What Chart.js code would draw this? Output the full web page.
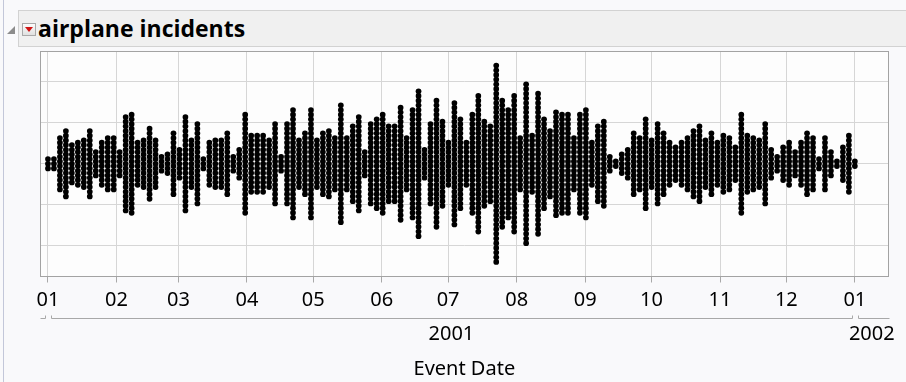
<!DOCTYPE html>
<html><head><meta charset="utf-8">
<script src="https://cdn.jsdelivr.net/npm/chart.js@4/dist/chart.umd.min.js"></script>
<style>
html,body{margin:0;padding:0;width:906px;height:382px;overflow:hidden;background:#f9f9fb;font-family:"Noto Sans",sans-serif;}
#wrap{position:relative;width:906px;height:382px;}
#edge{position:absolute;left:3px;top:0;width:1px;height:382px;background:#c3c7d9;}
#hdr{position:absolute;left:18px;top:10px;width:900px;height:37px;background:#f0f0f0;border:1px solid #d2d2d2;box-sizing:border-box;}
#tri{position:absolute;left:7px;top:26px;width:0;height:0;border-left:8px solid transparent;border-bottom:8px solid #8c8c8c;}
#btn{position:absolute;left:22px;top:23px;width:14px;height:13px;border:1px solid #a9a9a9;background:linear-gradient(#fcfcfc,#e0e0e0);box-sizing:border-box;}
#btn:after{content:"";position:absolute;left:2px;top:3px;border-left:4px solid transparent;border-right:4px solid transparent;border-top:5px solid #d01414;}
#title{position:absolute;left:38px;top:13px;font-family:"Open Sans",sans-serif;font-weight:700;font-size:23px;line-height:30px;color:#000;white-space:nowrap;}
canvas{position:absolute;left:0;top:0;}
</style></head>
<body><div id="wrap">
<div id="edge"></div>
<div id="hdr"></div>
<div id="tri"></div>
<div id="btn"></div>
<div id="title">airplane incidents</div>
<canvas id="c" width="906" height="382"></canvas>
</div>
<script>
// Incidents per date bin (136 bins spanning 2001-01-01 .. 2002-01-01)
const binCounts = [3,3,12,15,9,10,11,15,6,10,
12,12,6,21,22,10,11,16,11,4,
5,14,7,21,11,18,3,10,11,11,
14,4,7,22,13,13,13,11,18,4,
18,24,11,14,24,11,14,15,12,26,
12,17,21,6,18,20,22,17,17,25,
12,24,32,7,18,28,19,10,27,20,
10,22,30,19,17,43,28,24,30,12,
35,13,31,20,15,23,22,22,12,22,
24,10,17,19,4,2,5,7,14,12,
20,11,18,14,10,8,10,12,15,17,
11,14,10,13,12,8,22,13,12,11,
18,7,4,8,10,6,10,14,12,3,
12,6,2,8,13,2];
const firstBinDay = 0;          // 2001-01-01
const lastBinDay = 365;         // 2002-01-01
// Month tick positions (day of year) and labels
const monthDays = [0,31,59,90,120,151,181,212,243,273,304,334,365];
const monthLabels = ["01","02","03","04","05","06","07","08","09","10","11","12","01"];
const yearLabels = ["2001","2002"];
const axisMinDay = -3.6, axisMaxDay = 380.3;
const yGridValues = [-17.56,-8.78,0,8.78,17.56];
const yHalfRange = 24.12;

const binWidth = (lastBinDay - firstBinDay) / (binCounts.length - 1);
const points = [];
binCounts.forEach((n, i) => {
  for (let k = 0; k < n; k++) points.push({x: firstBinDay + i * binWidth, y: k - (n - 1) / 2});
});
const yearSpans = [[axisMinDay, 0], [0, 365], [365, axisMaxDay]];
const yearCenters = [(0 + 365) / 2, (365 + axisMaxDay) / 2];

const frame = {
  id: 'frame',
  beforeDraw(chart) {
    const a = chart.chartArea, ctx = chart.ctx;
    ctx.save(); ctx.fillStyle = '#fdfdfd';
    ctx.fillRect(a.left, a.top, a.right - a.left, a.bottom - a.top);
    ctx.restore();
  },
  afterDraw(chart) {
    const a = chart.chartArea, ctx = chart.ctx;
    ctx.save();
    ctx.strokeStyle = '#a3a3a3'; ctx.lineWidth = 1;
    ctx.strokeRect(Math.round(a.left) + 0.5, Math.round(a.top) + 0.5, Math.round(a.right - a.left) - 1, Math.round(a.bottom - a.top) - 1);
    const x2 = chart.scales.x2;
    const y = Math.round(x2.top + 6) + 0.5;
    ctx.strokeStyle = '#a8a8a8';
    yearSpans.forEach(([s, e], idx) => {
      let p0 = x2.getPixelForValue(s) + (idx === 0 ? 0 : 3);
      let p1 = x2.getPixelForValue(e) - (idx === yearSpans.length - 1 ? 0 : 3);
      p0 = Math.round(p0) + 0.5; p1 = Math.round(p1) + 0.5;
      ctx.beginPath();
      if (idx !== 0) { ctx.moveTo(p0, y - 3); ctx.lineTo(p0, y); } else { ctx.moveTo(p0, y); }
      ctx.lineTo(p1, y);
      if (idx !== yearSpans.length - 1) ctx.lineTo(p1, y - 3);
      ctx.stroke();
    });
    ctx.restore();
  }
};

const tickFont = {family: '"Noto Sans", sans-serif', size: 20};
new Chart(document.getElementById('c'), {
  type: 'scatter',
  data: {datasets: [{data: points, backgroundColor: '#000', borderWidth: 0, pointRadius: 2.85, pointHoverRadius: 2.85}]},
  options: {
    responsive: false, animation: false, devicePixelRatio: 1,
    events: [],
    layout: {padding: {left: 40, top: 51, right: 14, bottom: 0}, autoPadding: false},
    plugins: {legend: {display: false}, tooltip: {enabled: false}},
    scales: {
      x: {
        type: 'linear', position: 'bottom', weight: 0,
        min: axisMinDay, max: axisMaxDay,
        afterBuildTicks: s => { s.ticks = monthDays.map(v => ({value: v})); },
        afterFit: s => { s.height = 35; },
        ticks: {autoSkip: false, maxRotation: 0, padding: 6, color: '#000', font: tickFont,
                callback: (v, i) => monthLabels[i]},
        grid: {color: '#d6d6d6', tickColor: '#a8a8a8', tickLength: 6, drawTicks: true},
        border: {display: false}
      },
      x2: {
        type: 'linear', position: 'bottom', weight: 1,
        min: axisMinDay, max: axisMaxDay,
        afterBuildTicks: s => { s.ticks = yearCenters.map(v => ({value: v})); },
        afterFit: s => { s.height = 70.5; },
        ticks: {autoSkip: false, maxRotation: 0, padding: 11, color: '#000', font: tickFont,
                callback: (v, i) => yearLabels[i]},
        grid: {display: false, drawTicks: false},
        border: {display: false},
        title: {display: true, text: 'Event Date', color: '#000', font: tickFont, padding: {top: 6, bottom: 1}}
      },
      y: {
        min: -yHalfRange, max: yHalfRange,
        afterBuildTicks: s => { s.ticks = yGridValues.map(v => ({value: v})); },
        ticks: {display: false},
        grid: {color: '#d6d6d6', drawTicks: false},
        border: {display: false}
      }
    }
  },
  plugins: [frame]
});
</script>
</body></html>
